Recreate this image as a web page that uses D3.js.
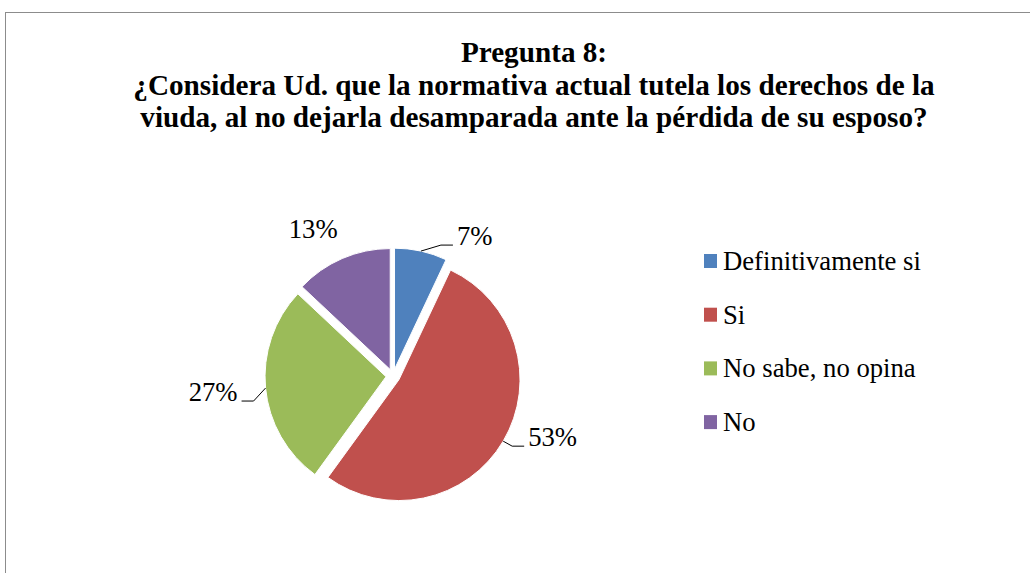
<!DOCTYPE html>
<html>
<head>
<meta charset="utf-8">
<script src="https://cdn.jsdelivr.net/npm/d3@7"></script>
<style>
  body { margin: 0; background: #fff; }
  text { font-family: "Liberation Serif", "Times New Roman", serif; fill: #000; }
</style>
</head>
<body>
<div id="chart"></div>
<script>
// chart data
const categories = ["Definitivamente si", "Si", "No sabe, no opina", "No"];
const values = [7, 53, 27, 13];
const colors = ["#4F81BD", "#C0504D", "#9BBB59", "#8064A2"];
const titleLines = ["Pregunta 8:",
  "¿Considera Ud. que la normativa actual tutela los derechos de la",
  "viuda, al no dejarla desamparada ante la pérdida de su esposo?"];

const width = 1030, height = 573;
const cx = 393, cy = 376, radius = 121, explode = 7;

const svg = d3.select("#chart")
  .append("svg")
  .attr("width", width)
  .attr("height", height);

// chart area border
svg.append("rect")
  .attr("x", 5.5).attr("y", 12.5)
  .attr("width", 1100).attr("height", 700)
  .attr("fill", "#fff")
  .attr("stroke", "#8c8c8c")
  .attr("stroke-width", 1);

// title
svg.append("g")
  .selectAll("text")
  .data(titleLines)
  .enter()
  .append("text")
  .attr("x", 534)
  .attr("y", (d, i) => 62 + i * 32.5)
  .attr("text-anchor", "middle")
  .style("font-size", "29.2px")
  .style("font-weight", "bold")
  .text(d => d);

// pie
const pie = d3.pie().sort(null).value(d => d);
const arcs = pie(values);
const arc = d3.arc().innerRadius(0).outerRadius(radius);

const g = svg.append("g").attr("transform", `translate(${cx},${cy})`);

function mid(d) { return (d.startAngle + d.endAngle) / 2; }
function offsetOf(d, r) {
  const a = mid(d);
  return [Math.sin(a) * r, -Math.cos(a) * r];
}

g.selectAll("path.slice")
  .data(arcs)
  .enter()
  .append("path")
  .attr("class", "slice")
  .attr("transform", d => `translate(${offsetOf(d, explode)})`)
  .attr("d", arc)
  .attr("fill", (d, i) => colors[i])
  .attr("stroke", "#fff")
  .attr("stroke-width", 1);

// data labels: offset of the text anchor from the slice edge, and whether a leader is drawn
const labelShift = [[36, -6], [25, 5], [-28, 13], [-29, -21]];
const leader = [true, true, true, false];

arcs.forEach((d, i) => {
  const o = offsetOf(d, explode);
  const e = offsetOf(d, radius);
  const px = o[0] + e[0], py = o[1] + e[1];
  const tx = px + labelShift[i][0], ty = py + labelShift[i][1];
  const side = labelShift[i][0] > 0 ? 1 : -1;
  let anchor = side > 0 ? "start" : "end";
  if (!leader[i]) anchor = "middle";

  if (leader[i]) {
    g.append("path")
      .attr("d", d3.line()([[px, py], [tx - side * 16, ty], [tx - side * 4, ty]]))
      .attr("fill", "none")
      .attr("stroke", "#000")
      .attr("stroke-width", 1);
  }
  g.append("text")
    .attr("x", tx)
    .attr("y", ty)
    .attr("text-anchor", anchor)
    .style("font-size", "26.7px")
    .text(values[i] + "%");
});

// legend
const legend = svg.append("g")
  .selectAll("g")
  .data(categories)
  .enter()
  .append("g")
  .attr("transform", (d, i) => `translate(704, ${270 + i * 53.7})`);

legend.append("rect")
  .attr("x", 0).attr("y", -16)
  .attr("width", 13).attr("height", 14)
  .attr("fill", (d, i) => colors[i]);

legend.append("text")
  .attr("x", 19)
  .attr("y", 0)
  .style("font-size", "26.7px")
  .text(d => d);
</script>
</body>
</html>
